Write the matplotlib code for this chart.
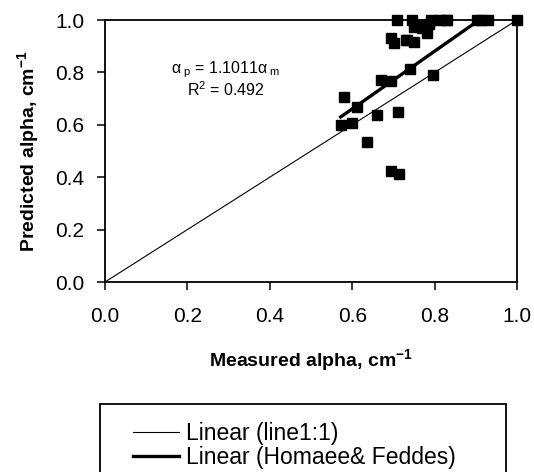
import matplotlib
matplotlib.use("Agg")
import matplotlib.pyplot as plt
from matplotlib.patches import Rectangle
import numpy as np

plt.rcParams["font.family"] = ["Liberation Sans", "DejaVu Sans"]
plt.rcParams["mathtext.fontset"] = "custom"
plt.rcParams["mathtext.rm"] = "Liberation Sans"
plt.rcParams["mathtext.it"] = "Liberation Sans"
plt.rcParams["mathtext.bf"] = "Liberation Sans:bold"

# measured vs predicted alpha (cm^-1)
measured = [0.708, 0.744, 0.791, 0.811, 0.831, 0.904, 0.929, 1.000,
            0.750, 0.770, 0.782, 0.763, 0.787, 0.827, 0.912,
            0.693, 0.702, 0.734, 0.749, 0.730,
            0.740, 0.796, 0.669, 0.693, 0.580, 0.612, 0.659, 0.712,
            0.572, 0.600, 0.636, 0.693, 0.714]
predicted = [1.000, 1.000, 1.000, 1.000, 1.000, 1.000, 1.000, 1.000,
             0.974, 0.968, 0.949, 0.980, 0.985, 1.000, 1.000,
             0.930, 0.911, 0.925, 0.916, 0.924,
             0.812, 0.790, 0.771, 0.768, 0.707, 0.669, 0.637, 0.650,
             0.599, 0.605, 0.535, 0.423, 0.414]
slope = 1.1011
r2 = 0.492
ticks = [0.0, 0.2, 0.4, 0.6, 0.8, 1.0]

W, H = 534, 472
fig = plt.figure(figsize=(W / 100, H / 100), dpi=100)
ax = fig.add_axes([105 / W, 1 - 282 / H, 412 / W, 262 / H])

x = np.array(measured)
one = np.array([0.0, 1.0])
ax.plot(one, one, color="black", lw=0.8, label="Linear (line1:1)")
fx = np.array([x.min(), x.max()])
ax.plot(fx, slope * fx, color="black", lw=2.4, label="Linear (Homaee& Feddes)")
ax.plot(measured, predicted, "s", color="black", ms=6.5, clip_on=False, zorder=5)

ax.set_xlim(0, 1)
ax.set_ylim(0, 1)
ax.set_xticks(ticks)
ax.set_yticks(ticks)
ax.set_xticklabels(["%.1f" % t for t in ticks])
ax.set_yticklabels(["%.1f" % t for t in ticks])
ax.tick_params(direction="out", length=6, width=1.1, labelsize=15)
ax.tick_params(axis="x", pad=12)
ax.tick_params(axis="y", pad=9)
for s in ax.spines.values():
    s.set_linewidth(1.3)

ax.set_xlabel("Measured alpha, cm$\\mathbf{^{-1}}$", fontsize=14, fontweight="bold", labelpad=15)
ax.set_ylabel("Predicted alpha, cm$\\mathbf{^{-1}}$", fontsize=14, fontweight="bold", labelpad=10)

ax.text(0.294, 0.81, r"α$_{\ p}$ = 1.1011α$_{\ m}$", fontsize=11.5, ha="center", va="center")
ax.text(0.294, 0.735, "R$^2$ = %.3f" % r2, fontsize=11.5, ha="center", va="center")

# legend below the plot, box running off the bottom edge
fig.patches.append(Rectangle((100 / W, -0.05), 406 / W, 1 - 404 / H + 0.05,
                             transform=fig.transFigure, fill=False,
                             edgecolor="black", lw=1.3))
fig.legend(loc="upper left", bbox_to_anchor=(133 / W, 1 - 422 / H), frameon=False,
           borderaxespad=0, borderpad=0, fontsize=16.5, handlelength=2.0,
           handletextpad=0.3, labelspacing=0.05)

fig.savefig("out.png", dpi=100)
